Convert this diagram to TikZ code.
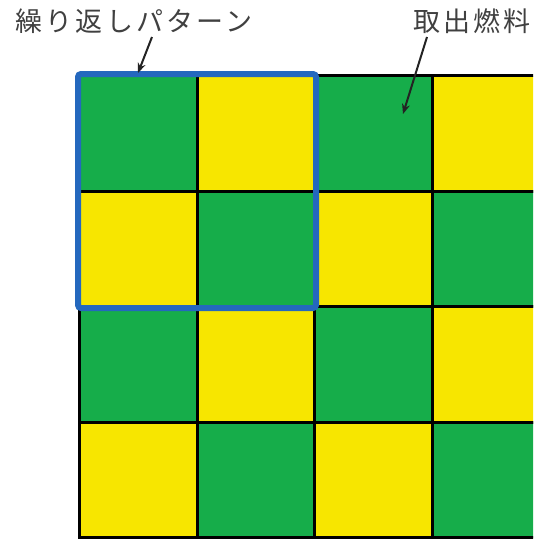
\documentclass[tikz,border=0pt]{standalone}
\usepackage{fontspec}
\newfontfamily\jpfont[LetterSpace=12]{Noto Sans CJK JP}
\usetikzlibrary{arrows,arrows.meta,fit}
\definecolor{cellgreen}{RGB}{22,173,74}
\definecolor{cellyellow}{RGB}{247,230,0}
\definecolor{patblue}{RGB}{36,104,190}
\definecolor{arrowgrey}{RGB}{35,35,35}

\begin{document}
\begin{tikzpicture}[x=1pt,y=-1pt,
		>={Stealth[length=10pt,width=8pt]},
		cell/.style={rectangle,draw=black,line width=3pt,inner sep=0pt,
			minimum width=117.5pt,minimum height=115.5pt,anchor=north west},
		cell0/.style={fill=cellgreen},
		cell1/.style={fill=cellyellow},
		repbox/.style={rectangle,draw=patblue,line width=6pt,rounded corners=3pt,inner sep=0pt},
		textlabel/.style={inner sep=0pt,font=\jpfont\fontsize{27}{30}\selectfont,text=black!75},
		pointer/.style={->,draw=arrowgrey,line width=2pt}]
	
	\useasboundingbox (0,0) rectangle (533,541);
	
	% fuel cells, cut off at the right edge
	\begin{scope}
		\clip (0,0) rectangle (533,541);
		\foreach \r in {0,...,3}
			\foreach \c in {0,...,3} {
				\pgfmathtruncatemacro\k{mod(\r+\c,2)}
				\node[cell,cell\k] (c-\r-\c) at (78+117.5*\c, 74+115.5*\r) {};
			}
	\end{scope}
	
	% repeating pattern
	\node[repbox,fit=(c-0-0)(c-1-1)] (rep) {};
	
	\node[textlabel] (rep-label) at (134,21) {繰り返しパターン};
	\node[textlabel] (fuel-label) at (472,21) {取出燃料};
	
	\coordinate (rep-tail) at (152,37);
	\coordinate (rep-head) at (138,73);
	\coordinate (fuel-tail) at (427,37);
	\coordinate (fuel-head) at (403,114);
	
	\draw[pointer] (rep-tail) -- (rep-head);
	\draw[pointer] (fuel-tail) -- (fuel-head);
	
\end{tikzpicture}
\end{document}
